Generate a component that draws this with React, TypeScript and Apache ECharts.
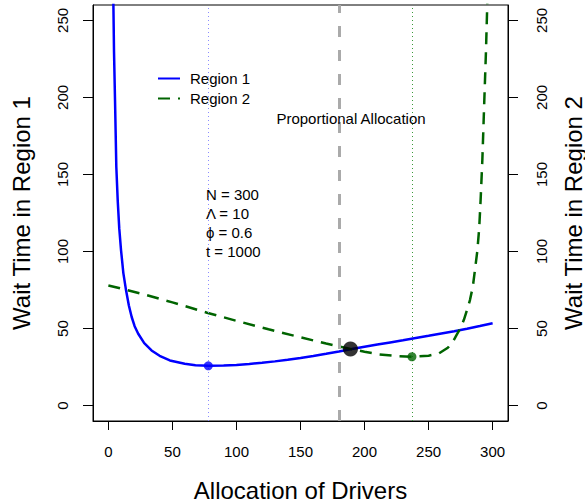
import React, { useEffect, useRef } from "react";
import * as echarts from "echarts";

// Tick values
const xTicks = [0, 50, 100, 150, 200, 250, 300];
const yTicks = [0, 50, 100, 150, 200, 250];

// Region 1 wait time (x = drivers allocated to region 1)
const region1X = [3.85, 4.4, 5.2, 6.2, 7.3, 8.5, 9.9, 11.7, 13.8, 16, 18.2, 20.5, 23.3, 28, 33.7, 40, 48, 59.6, 68, 78, 90, 100, 110, 120, 130, 140, 150, 160, 170, 180, 190, 200, 210, 220, 230, 240, 250, 260, 270, 280, 290, 300];
const region1Y = [265, 230, 198, 155, 133, 115, 100.8, 86, 74.8, 65, 57.5, 51.5, 46.6, 40.5, 35.8, 32.3, 29.3, 27.1, 26.2, 25.8, 26.0, 26.4, 27.0, 27.8, 28.7, 29.7, 30.9, 32.2, 33.6, 35.1, 36.7, 38.2, 39.6, 41.0, 42.4, 43.9, 45.3, 46.8, 48.3, 49.9, 51.6, 53.5];

// Region 2 wait time
const region2X = [0, 13, 25, 50, 77, 100, 125, 150, 170, 189, 200, 211, 225, 237, 250, 258, 265, 269, 272, 275, 277.5, 280, 282.3, 284.5, 286.2, 288, 289.5, 290.6, 292, 293.5, 294.8, 295.8, 296.2];
const region2Y = [78, 75.3, 72.8, 67, 60.3, 55, 49.5, 44.3, 40.3, 36.8, 35, 33.3, 32.1, 31.7, 32.4, 33.8, 37.5, 41.5, 46, 50.5, 55.5, 62, 68.5, 77, 88, 100, 115, 133, 160, 198, 230, 260, 275];

// Highlighted points
const optimum1 = [78, 25.8];
const optimum2 = [237, 31.7];
const equilibrium = [189, 36.8];
const proportionalAllocation = 180;

// Annotation texts
const paramLines = ["N = 300", "\u039B = 10", "\u03D5 = 0.6", "t = 1000"];

const FONT = "'Liberation Sans', Arial, Helvetica, sans-serif";

export default function App() {
  const ref = useRef<HTMLDivElement>(null);

  useEffect(() => {
    if (!ref.current) return;
    const chart = echarts.init(ref.current, null, { renderer: "svg" });

    const yAxisBase = (pos: "left" | "right", name: string, margin: number, nameGap: number) => ({
      type: "value",
      position: pos,
      min: -10,
      max: 260,
      axisLine: { show: true, onZero: false, lineStyle: { color: "#000", width: 1 } },
      axisTick: { show: true, customValues: yTicks, length: 10, lineStyle: { color: "#000", width: 1 } },
      axisLabel: { customValues: yTicks, rotate: 90, fontSize: 15, color: "#000", margin, fontFamily: FONT },
      splitLine: { show: false },
      name,
      nameLocation: "middle",
      nameGap,
      nameRotate: 90,
      nameTextStyle: { fontSize: 24, color: "#000", fontFamily: FONT },
    });

    const option: any = {
      animation: false,
      backgroundColor: "#fff",
      textStyle: { fontFamily: FONT },
      grid: {
        left: 93, right: 77, top: 5, bottom: 83,
        show: true, borderColor: "#000", borderWidth: 1, backgroundColor: "transparent",
        containLabel: false, outerBoundsMode: "none",
      },
      xAxis: {
        type: "value",
        min: -12,
        max: 312,
        axisLine: { show: true, onZero: false, lineStyle: { color: "#000", width: 1 } },
        axisTick: { show: true, customValues: xTicks, length: 9, lineStyle: { color: "#000", width: 1 } },
        axisLabel: { customValues: xTicks, fontSize: 15, color: "#000", margin: 23, fontFamily: FONT },
        splitLine: { show: false },
        name: "Allocation of Drivers",
        nameLocation: "middle",
        nameGap: 57,
        nameTextStyle: { fontSize: 24, color: "#000", fontFamily: FONT },
      },
      yAxis: [
        yAxisBase("left", "Wait Time in Region 1", 23, 60),
        yAxisBase("right", "Wait Time in Region 2", 26, 53),
      ],
      legend: {
        orient: "vertical",
        left: 157,
        top: 71,
        padding: 0,
        itemWidth: 22,
        itemHeight: 14,
        itemGap: 5,
        itemStyle: { color: "transparent", borderWidth: 0, opacity: 0 },
        textStyle: { fontSize: 15, color: "#000", fontFamily: FONT, padding: [0, 0, 0, 5] },
        data: ["Region 1", "Region 2"],
      },
      series: [
        {
          name: "Region 1",
          type: "line",
          yAxisIndex: 0,
          data: region1X.map((x, i) => [x, region1Y[i]]),
          symbol: "none",
          smooth: false,
          clip: true,
          lineStyle: { color: "#0000ff", width: 2.5 },
          itemStyle: { color: "#0000ff" },
          z: 3,
          markLine: {
            silent: true,
            symbol: ["none", "none"],
            label: { show: false },
            data: [
              { xAxis: optimum1[0], lineStyle: { color: "#8c8cff", width: 1, type: [1, 3] } },
              { xAxis: proportionalAllocation, lineStyle: { color: "#aaaaaa", width: 3, type: [11, 13] } },
            ],
          },
        },
        {
          name: "Region 2",
          type: "line",
          yAxisIndex: 1,
          data: region2X.map((x, i) => [x, region2Y[i]]),
          symbol: "none",
          clip: true,
          lineStyle: { color: "#006400", width: 2.5, type: [12, 8] },
          itemStyle: { color: "#006400" },
          z: 3,
          markLine: {
            silent: true,
            symbol: ["none", "none"],
            label: { show: false },
            data: [{ xAxis: optimum2[0], lineStyle: { color: "#3a9a3a", width: 1, type: [1, 3] } }],
          },
        },
        {
          name: "points",
          type: "scatter",
          yAxisIndex: 0,
          z: 5,
          data: [
            { value: optimum1, symbolSize: 9, itemStyle: { color: "#0000ff" } },
            { value: optimum2, symbolSize: 9, itemStyle: { color: "#006400" } },
            { value: equilibrium, symbolSize: 15, itemStyle: { color: "#000" } },
          ],
        },
      ],
      graphic: [
        {
          type: "text",
          x: 351,
          y: 118,
          style: { text: "Proportional Allocation", align: "center", verticalAlign: "middle", font: `15px ${FONT}`, fill: "#000" },
          z: 10,
        },
        ...paramLines.map((t, i) => ({
          type: "text",
          x: 206,
          y: 194 + i * 19.3,
          style: { text: t, align: "left", verticalAlign: "middle", font: `15px ${FONT}`, fill: "#000" },
          z: 10,
        })),
      ],
    };

    chart.setOption(option);
    return () => chart.dispose();
  }, []);

  return <div ref={ref} style={{ position: "fixed", left: 0, top: 0, width: 585, height: 504 }} />;
}
